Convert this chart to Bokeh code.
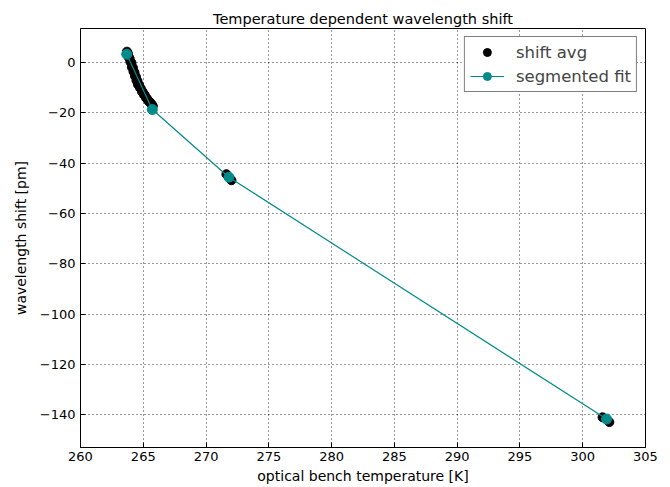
from bokeh.plotting import figure
from bokeh.models import Range1d, FixedTicker, Legend, LegendItem, ColumnDataSource
from bokeh.embed import file_html
from bokeh.resources import INLINE

# shift avg (measured)
avg_temp = [263.70, 263.78, 263.86, 263.92, 263.98, 264.06, 264.10, 264.18, 264.22, 264.30,
            264.34, 264.42, 264.46, 264.54, 264.58, 264.66, 264.74, 264.80, 264.90, 264.96,
            265.06, 265.12, 265.22, 265.28, 265.38, 265.44, 265.54, 265.60, 265.68, 265.76,
            271.62, 272.02, 301.58, 302.12]
avg_shift = [4.3, 3.5, 2.0, 1.5, 0.3, -0.2, -1.9, -2.1, -3.6, -4.0,
             -5.4, -5.7, -7.2, -7.4, -8.8, -8.9, -10.1, -10.3, -11.6, -11.7,
             -12.9, -13.0, -14.1, -14.3, -15.0, -15.4, -15.8, -16.2, -16.7, -17.3,
             -44.4, -46.8, -141.0, -142.9]

# segmented fit
fit_temp = [263.68, 265.72, 271.82, 301.9]
fit_shift = [3.3, -18.7, -45.6, -141.7]

x_ticks = [260, 265, 270, 275, 280, 285, 290, 295, 300, 305]
y_ticks = [0, -20, -40, -60, -80, -100, -120, -140]

FONT = "DejaVu Sans"
TEAL = "#008b8b"

p = figure(width=670, height=487, output_backend="svg", toolbar_location=None,
           x_range=Range1d(260, 305), y_range=Range1d(-153, 13.5),
           min_border_left=80, min_border_right=25, min_border_top=28, min_border_bottom=40,
           title="Temperature dependent wavelength shift")
p.title.align = "center"
p.title.text_font = FONT
p.title.text_font_size = "14.5px"
p.title.text_font_style = "normal"
p.title.text_color = "black"
p.title.standoff = 3
p.outline_line_color = "black"
p.outline_line_width = 1
p.background_fill_color = "white"
p.border_fill_color = "white"

src_avg = ColumnDataSource(dict(x=avg_temp, y=avg_shift))
src_fit = ColumnDataSource(dict(x=fit_temp, y=fit_shift))

r_avg = p.scatter("x", "y", source=src_avg, size=9, color="black")
r_fitline = p.line("x", "y", source=src_fit, line_color=TEAL, line_width=1.2)
r_fitpts = p.scatter("x", "y", source=src_fit, size=10, color=TEAL)

for ax in (p.xaxis[0], p.yaxis[0]):
    ax.major_tick_in = 5
    ax.major_tick_out = 0
    ax.minor_tick_in = 0
    ax.minor_tick_out = 0
    ax.axis_line_color = "black"
    ax.major_tick_line_color = "black"
    ax.major_label_text_font = FONT
    ax.major_label_text_font_size = "13px"
    ax.major_label_text_color = "black"
    ax.axis_label_text_font = FONT
    ax.axis_label_text_font_size = "14px"
    ax.axis_label_text_font_style = "normal"
    ax.axis_label_text_color = "black"

p.xaxis.ticker = FixedTicker(ticks=x_ticks)
p.yaxis.ticker = FixedTicker(ticks=y_ticks)
p.yaxis.major_label_overrides = {t: ("\u2212" + str(-t) if t < 0 else str(t)) for t in y_ticks}
p.xaxis.axis_label = "optical bench temperature [K]"
p.yaxis.axis_label = "wavelength shift [pm]"
p.xaxis.axis_label_standoff = 4
p.yaxis.axis_label_standoff = 8
p.xaxis.major_label_standoff = 4
p.yaxis.major_label_standoff = 5

p.grid.grid_line_color = "black"
p.grid.grid_line_dash = "1 3"
p.grid.grid_line_alpha = 0.8
p.xgrid.ticker = FixedTicker(ticks=x_ticks)
p.ygrid.ticker = FixedTicker(ticks=y_ticks)

legend = Legend(items=[LegendItem(label="shift avg", renderers=[r_avg]),
                       LegendItem(label="segmented fit", renderers=[r_fitline, r_fitpts])],
                location="top_right")
legend.label_text_font = FONT
legend.label_text_font_size = "16.5px"
legend.border_line_color = "black"
legend.border_line_width = 1
legend.glyph_width = 34
legend.glyph_height = 20
legend.spacing = 4
legend.padding = 5
legend.margin = 8
legend.label_standoff = 12
legend.background_fill_alpha = 1
p.add_layout(legend)

open("out.html", "w").write(file_html(p, INLINE))
